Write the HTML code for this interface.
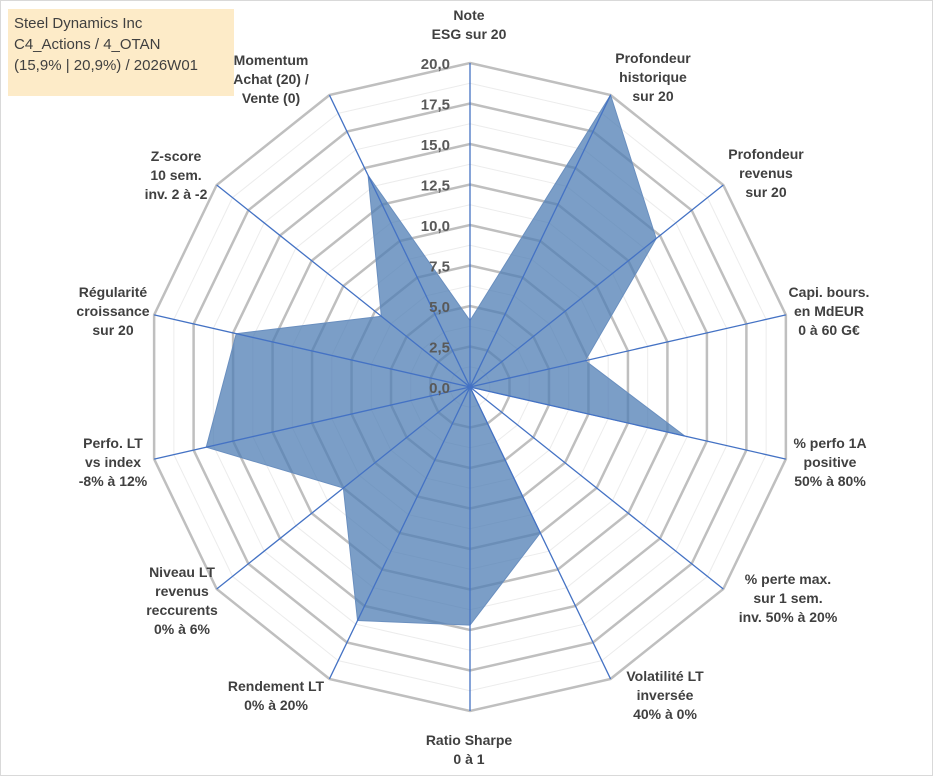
<!DOCTYPE html>
<html><head><meta charset="utf-8"><style>
body{margin:0;background:#fff;}
#wrap{position:relative;width:933px;height:776px;overflow:hidden;background:#fff;border:1px solid #d9d9d9;box-sizing:border-box;font-family:"Liberation Sans",sans-serif;}
.lbl{position:absolute;font-weight:bold;font-size:14px;color:#404040;text-align:center;line-height:19px;white-space:nowrap;transform:translateX(-50%);}
#title{position:absolute;left:7px;top:8px;width:226px;height:87px;background:#fdebc8;font-size:15px;line-height:21px;color:#404040;padding:4px 6px;box-sizing:border-box;}
</style></head><body>
<div id="wrap">
<svg id="svg" width="933" height="776" style="position:absolute;left:0;top:0"></svg>
<div id="title">Steel Dynamics Inc<br>C4_Actions / 4_OTAN<br>(15,9% | 20,9%) / 2026W01</div>
<div class="lbl" style="left:468px;top:5px">Note<br>ESG sur 20</div>
<div class="lbl" style="left:652px;top:48px">Profondeur<br>historique<br>sur 20</div>
<div class="lbl" style="left:765px;top:144px">Profondeur<br>revenus<br>sur 20</div>
<div class="lbl" style="left:828px;top:282px">Capi. bours.<br>en MdEUR<br>0 à 60 G€</div>
<div class="lbl" style="left:829px;top:433px">% perfo 1A<br>positive<br>50% à 80%</div>
<div class="lbl" style="left:787px;top:569px">% perte max.<br>sur 1 sem.<br>inv. 50% à 20%</div>
<div class="lbl" style="left:664px;top:666px">Volatilité LT<br>inversée<br>40% à 0%</div>
<div class="lbl" style="left:468px;top:730px">Ratio Sharpe<br>0 à 1</div>
<div class="lbl" style="left:275px;top:676px">Rendement LT<br>0% à 20%</div>
<div class="lbl" style="left:181px;top:562px">Niveau LT<br>revenus<br>reccurents<br>0% à 6%</div>
<div class="lbl" style="left:112px;top:433px">Perfo. LT<br>vs index<br>-8% à 12%</div>
<div class="lbl" style="left:112px;top:282px">Régularité<br>croissance<br>sur 20</div>
<div class="lbl" style="left:175px;top:146px">Z-score<br>10 sem.<br>inv. 2 à -2</div>
<div class="lbl" style="left:270px;top:50px">Momentum<br>Achat (20) /<br>Vente (0)</div>
</div>
<script>
const categories=["Note ESG","Profondeur historique","Profondeur revenus","Capi. bours.","% perfo 1A","% perte max.","Volatilité LT","Ratio Sharpe","Rendement LT","Niveau LT revenus","Perfo. LT","Régularité","Z-score","Momentum"];
const values=[4.1,20,14.7,7.3,13.6,0,10,14.7,16,10,16.7,14.8,7,14.5];
const tickLabels=["0,0","2,5","5,0","7,5","10,0","12,5","15,0","17,5","20,0"];
const tickValues=[0,2.5,5,7.5,10,12.5,15,17.5,20];
const maxV=20;
const cx=469,cy=386,R=324;
const NS="http://www.w3.org/2000/svg";
const svg=document.getElementById('svg');
function ang(i){return i*2*Math.PI/categories.length;}
function pt(i,v){const r=v/maxV*R,a=ang(i);return [cx+r*Math.sin(a),cy-r*Math.cos(a)];}
function mk(t,attrs){const e=document.createElementNS(NS,t);for(const k in attrs)e.setAttribute(k,attrs[k]);svg.appendChild(e);return e;}
// minor rings
for(let v=1.25;v<maxV;v+=2.5){
  const p=categories.map((c,i)=>pt(i,v).join(',')).join(' ');
  const e=mk('polygon',{points:p,fill:'none',stroke:'#ececec','stroke-width':1});
  
  
}
tickValues.forEach(v=>{
  if(v===0)return;
  const p=categories.map((c,i)=>pt(i,v).join(',')).join(' ');
  const e=mk('polygon',{points:p,fill:'none',stroke:'#bfbfbf','stroke-width':2.5});
  
  
});
const poly=mk('polygon',{points:values.map((v,i)=>pt(i,v).join(',')).join(' '),fill:'#4f7eb4','fill-opacity':0.75,stroke:'#6a8fbf','stroke-width':1});


categories.forEach((c,i)=>{
  const [x,y]=pt(i,maxV);
  const l=mk('line',{x1:cx,y1:cy,x2:x,y2:y,stroke:'#4472c4','stroke-width':1.3});
  
  
});
tickValues.forEach((v,k)=>{
  const t=mk('text',{x:cx-20,y:cy-v/maxV*R+6,'text-anchor':'end','font-family':'Liberation Sans, sans-serif','font-size':15,'font-weight':'bold',fill:'#595959'});
  t.textContent=tickLabels[k];
  
  
});
</script>
</body></html>
